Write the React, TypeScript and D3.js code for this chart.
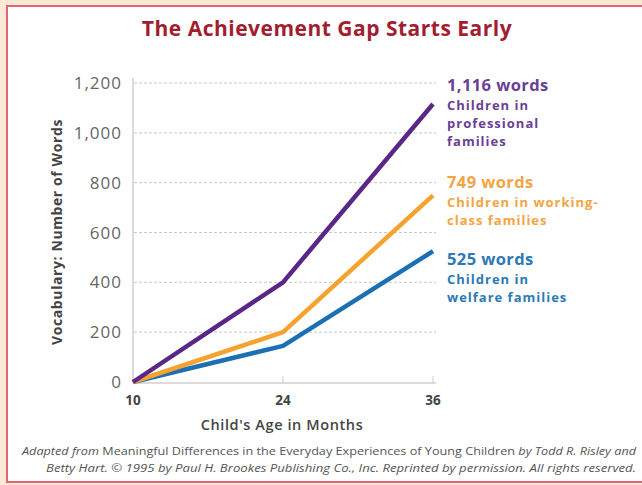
import * as d3 from "d3";

const ages = ["10", "24", "36"];
const professional = [0, 400, 1116];
const workingClass = [0, 200, 749];
const welfare = [0, 145, 525];
const yTicks = [0, 200, 400, 600, 800, 1000, 1200];

const series = [
  {
    name: "professional",
    values: professional,
    stroke: "#5a2788",
    text: "#6b3f94",
    head: "1,116 words",
    lines: ["Children in", "professional", "families"],
    labelY: 91,
  },
  {
    name: "working",
    values: workingClass,
    stroke: "#f6a22f",
    text: "#f3a444",
    head: "749 words",
    lines: ["Children in working-", "class families"],
    labelY: 188,
  },
  {
    name: "welfare",
    values: welfare,
    stroke: "#1d6fb3",
    text: "#2d79b8",
    head: "525 words",
    lines: ["Children in", "welfare families"],
    labelY: 265,
  },
];

const W = 642;
const H = 485;
const font = "'Open Sans', sans-serif";

export default function App() {
  const x = d3.scalePoint<string>().domain(ages).range([133, 433]);
  const y = d3.scaleLinear().domain([0, 1200]).range([382, 83]);

  const line = d3
    .line<number>()
    .x((_, i) => x(ages[i]) ?? 0)
    .y((d) => y(d));

  return (
    <svg
      width={W}
      height={H}
      style={{ position: "fixed", left: 0, top: 0, fontFamily: font }}
    >
      <rect x={0} y={0} width={W} height={H} fill="#fbe8d5" />
      <rect x={7} y={6} width={W - 6} height={H - 9} fill="#ffffff" stroke="#e06675" strokeWidth={2} />

      <text x={327} y={36} textAnchor="middle" fontSize={21} fontWeight={700} letterSpacing={0.5} fill="#a11e30">
        The Achievement Gap Starts Early
      </text>

      {yTicks.map((t) => (
        <g key={t}>
          {t > 0 && (
            <line
              x1={134}
              x2={436}
              y1={y(t)}
              y2={y(t)}
              stroke="#c8c8c8"
              strokeWidth={1}
              strokeDasharray="3,2"
            />
          )}
          <text
            x={122}
            y={y(t)}
            dy="0.36em"
            textAnchor="end"
            fontSize={17}
            letterSpacing={1}
            fill="#666666"
          >
            {d3.format(",")(t)}
          </text>
        </g>
      ))}

      <line x1={133} x2={133} y1={78} y2={383} stroke="#cfcfcf" strokeWidth={1.5} />
      <line x1={133} x2={436} y1={383} y2={383} stroke="#cfcfcf" strokeWidth={1.5} />
      {ages.slice(1).map((a) => (
        <line key={a} x1={x(a)} x2={x(a)} y1={376} y2={383} stroke="#cfcfcf" strokeWidth={1} />
      ))}

      {ages.map((a) => (
        <text key={a} x={x(a)} y={405} textAnchor="middle" fontSize={13.5} fontWeight={700} fill="#444444">
          {a}
        </text>
      ))}

      <text x={282} y={430} textAnchor="middle" fontSize={14.5} fontWeight={600} letterSpacing={0.6} fill="#444444">
        Child's Age in Months
      </text>

      <text
        transform="translate(62,232) rotate(-90)"
        textAnchor="middle"
        fontSize={14}
        fontWeight={700}
        letterSpacing={0.6}
        fill="#444444"
      >
        Vocabulary: Number of Words
      </text>

      {series
        .slice()
        .reverse()
        .map((s) => (
          <path
            key={s.name}
            d={line(s.values) ?? ""}
            fill="none"
            stroke={s.stroke}
            strokeWidth={4.5}
            strokeLinejoin="round"
          />
        ))}

      {series.map((s) => (
        <g key={s.name}>
          <text x={447} y={s.labelY} fontSize={16.5} fontWeight={700} letterSpacing={0.4} fill={s.text}>
            {s.head}
          </text>
          {s.lines.map((l, i) => (
            <text
              key={i}
              x={447}
              y={s.labelY + 19 + i * 18}
              fontSize={13}
              fontWeight={700}
              letterSpacing={1}
              fill={s.text}
            >
              {l}
            </text>
          ))}
        </g>
      ))}

      <text
        x={22}
        y={455}
        fontSize={11}
        fill="#555555"
        textLength={614}
        lengthAdjust="spacingAndGlyphs"
      >
        <tspan fontStyle="italic">Adapted from </tspan>
        <tspan>Meaningful Differences in the Everyday Experiences of Young Children </tspan>
        <tspan fontStyle="italic">by Todd R. Risley and</tspan>
      </text>
      <text
        x={46}
        y={472}
        fontSize={11}
        fontStyle="italic"
        fill="#555555"
        textLength={590}
        lengthAdjust="spacingAndGlyphs"
      >
        Betty Hart. © 1995 by Paul H. Brookes Publishing Co., Inc. Reprinted by permission. All rights reserved.
      </text>
    </svg>
  );
}
